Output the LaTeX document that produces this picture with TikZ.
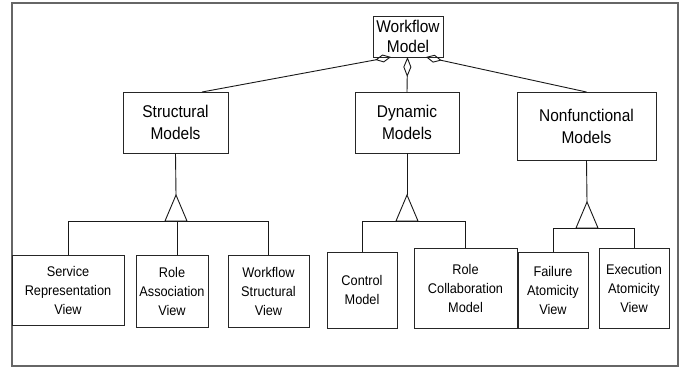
\documentclass[tikz,border=0pt]{standalone}
\usepackage{fontspec}
\setmainfont[FakeStretch=0.91]{Liberation Sans}
\usetikzlibrary{arrows.meta}

\begin{document}
\begin{tikzpicture}[x=1pt,y=-1pt,
  every node/.style={inner sep=0pt, outer sep=0pt},
  frame/.style={draw=black!60, line width=1.6pt},
  bigbox/.style={draw=black!85, line width=0.9pt, align=center,
    font=\fontsize{17}{22}\selectfont},
  smallbox/.style={draw=black!85, line width=0.9pt, align=center,
    font=\fontsize{14}{19}\selectfont},
  link/.style={draw=black!90, line width=0.9pt},
  agg/.style={link, {Diamond[open,length=16pt,width=8pt]}-},
  aggv/.style={link, {Diamond[open,length=20pt,width=8pt]}-},
  gen/.style={link, fill=white, line join=miter}]

\useasboundingbox (0,0) rectangle (684,368);

% outer frame
\draw[frame] (12,3) rectangle (678,366);

% top-level model
\node[bigbox, font=\fontsize{17}{20}\selectfont, minimum width=70pt, minimum height=41pt]
  (wf) at (408,36.5) {Workflow\\Model};

% second level
\node[bigbox, minimum width=105pt, minimum height=61pt] (sm) at (175.5,122.5) {Structural\\Models};
\node[bigbox, minimum width=104pt, minimum height=61pt] (dm) at (407,122.5) {Dynamic\\Models};
\node[bigbox, minimum width=139pt, minimum height=68pt] (nm) at (586.5,126) {Nonfunctional\\Models};

% leaf views
\node[smallbox, minimum width=112pt, minimum height=70pt] (s1) at (68,290) {Service\\Representation\\View};
\node[smallbox, minimum width=72pt, minimum height=72pt] (s2) at (172,291) {Role\\Association\\View};
\node[smallbox, minimum width=81pt, minimum height=72pt] (s3) at (268.5,291) {Workflow\\Structural\\View};
\node[smallbox, minimum width=70pt, minimum height=76pt] (d1) at (362,290) {Control\\Model};
\node[smallbox, minimum width=103pt, minimum height=80pt] (d2) at (465.5,288) {Role\\Collaboration\\Model};
\node[smallbox, minimum width=70pt, minimum height=76pt] (n1) at (553,290) {Failure\\Atomicity\\View};
\node[smallbox, minimum width=70pt, minimum height=80pt] (n2) at (634,288) {Execution\\Atomicity\\View};

% aggregation links from the workflow model
\draw[agg] ([xshift=-17pt]wf.south) -- ([xshift=26.5pt]sm.north);
\draw[aggv] ([xshift=-0.5pt]wf.south) -- (dm.north);
\draw[agg] ([xshift=18pt]wf.south) -- (nm.north);

% generalisation: structural models
\coordinate (sa) at (176,195);
\coordinate (sb) at (176,221);
\draw[link] (sm.south) -- (sa);
\draw[gen] (sa) -- ++(-11,26) -- ++(22,0) -- cycle;
\draw[link] (s1.north) |- (s3.north |- sb) -- (s3.north);
\draw[link] ([xshift=5pt]s2.north) -- ([xshift=5pt]s2.north |- sb);

% generalisation: dynamic models
\coordinate (da) at (407,195);
\coordinate (db) at (407,221);
\draw[link] (dm.south) -- (da);
\draw[gen] (da) -- ++(-11,26) -- ++(22,0) -- cycle;
\draw[link] (d1.north) |- (d2.north |- db) -- (d2.north);

% generalisation: nonfunctional models
\coordinate (na) at (587,202);
\coordinate (nb) at (587,228);
\draw[link] (nm.south) -- (na);
\draw[gen] (na) -- ++(-11,26) -- ++(22,0) -- cycle;
\draw[link] (n1.north) |- (n2.north |- nb) -- (n2.north);

\end{tikzpicture}
\end{document}
